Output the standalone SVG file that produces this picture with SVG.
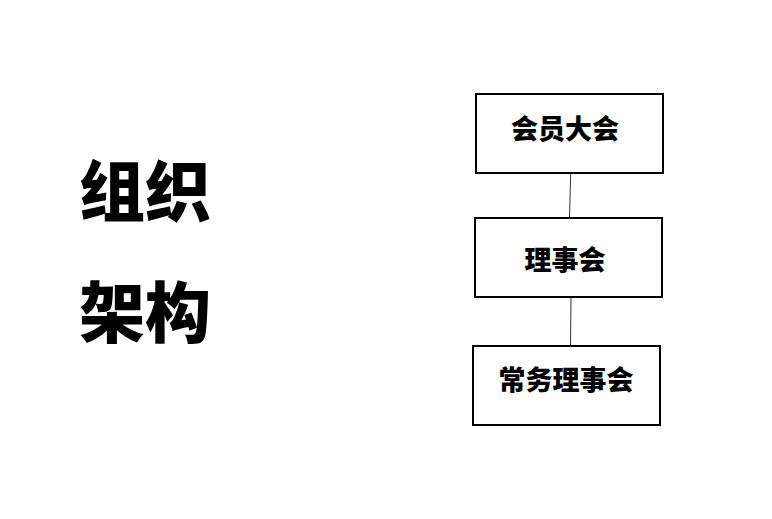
<svg xmlns="http://www.w3.org/2000/svg" width="772" height="519" viewBox="0 0 772 519">
<style>
.box{fill:#fff;stroke:#000;stroke-width:2}
.lbl{font-family:"Noto Sans CJK SC","Noto Sans",sans-serif;font-weight:900;font-size:27px;text-anchor:middle;fill:#000}
.title{font-family:"Noto Sans CJK SC","Noto Sans",sans-serif;font-weight:900;font-size:66px;fill:#000}
.conn{stroke:#333;stroke-width:1;fill:none}
</style>
<rect width="772" height="519" fill="#fff"/>
<g id="title">
<text class="title" x="79" y="216">组织</text>
<text class="title" x="79" y="337">架构</text>
</g>
<g id="connectors">
<line class="conn" x1="570.7" y1="173" x2="569.5" y2="218"/>
<line class="conn" x1="571" y1="297" x2="570.5" y2="346"/>
</g>
<g id="node1">
<rect class="box" x="476" y="94" width="187" height="79"/>
<text class="lbl" x="565" y="139">会员大会</text>
</g>
<g id="node2">
<rect class="box" x="475" y="218" width="187" height="79"/>
<text class="lbl" x="565" y="270">理事会</text>
</g>
<g id="node3">
<rect class="box" x="473" y="346" width="187" height="79"/>
<text class="lbl" x="566" y="390">常务理事会</text>
</g>
</svg>
